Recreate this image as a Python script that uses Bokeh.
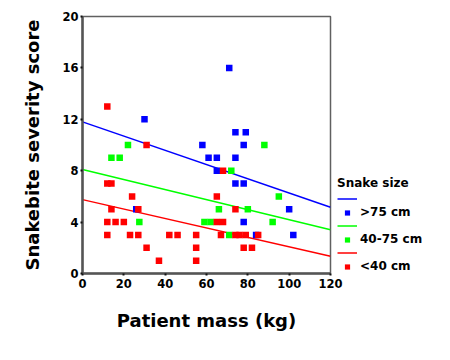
from bokeh.plotting import figure
from bokeh.models import Range1d, FixedTicker, Legend, LegendItem
from bokeh.embed import file_html
from bokeh.resources import INLINE

# ---- data ----
big_mass = [30, 58, 71, 74, 79, 78, 61, 65, 74, 65, 74, 78, 26, 100, 78, 84, 102]
big_score = [12, 10, 16, 11, 11, 10, 9, 9, 9, 8, 7, 7, 5, 5, 4, 3, 3]

mid_mass = [22, 88, 14, 18, 72, 95, 66, 80, 27.5, 59, 62, 92, 71]
mid_score = [10, 10, 9, 9, 8, 6, 5, 5, 4, 4, 4, 4, 3]

small_mass = [12, 31, 12, 14, 24, 14, 27, 12, 16, 20, 12, 23, 27, 42, 46, 55, 31, 55,
              37, 55, 68, 65, 74, 65, 68, 67, 74, 76, 79, 85, 78, 82]
small_score = [13, 10, 7, 7, 6, 5, 5, 4, 4, 4, 3, 3, 3, 3, 3, 3, 2, 2,
               1, 1, 8, 6, 5, 4, 4, 3, 3, 3, 3, 3, 2, 2]

fit_x = [0, 120]
fit_big = [11.8, 5.15]
fit_mid = [8.1, 3.4]
fit_small = [5.75, 1.35]

x_ticks = [0, 20, 40, 60, 80, 100, 120]
y_ticks = [0, 4, 8, 12, 16, 20]
series_labels = [">75 cm", "40-75 cm", "<40 cm"]

BLUE, GREEN, RED = "#0000ff", "#00ff00", "#ff0000"
FONT = "DejaVu Sans"

p = figure(frame_width=248, frame_height=257, output_backend="svg", toolbar_location=None,
           x_range=Range1d(0, 120), y_range=Range1d(0, 20),
           min_border_left=82, min_border_right=110, min_border_top=16, min_border_bottom=77)

p.xgrid.visible = False
p.ygrid.visible = False
p.background_fill_color = "white"
p.border_fill_color = "white"
p.outline_line_color = "#606060"
p.outline_line_width = 1.5

for ax in (p.xaxis[0], p.yaxis[0]):
    ax.axis_line_color = "#555555"
    ax.axis_line_width = 2.5
    ax.major_tick_line_color = "#111111"
    ax.major_tick_line_width = 2
    ax.major_tick_in = 0
    ax.major_tick_out = 2
    ax.minor_tick_line_color = None
    ax.major_label_text_font = FONT
    ax.major_label_text_font_style = "bold"
    ax.major_label_text_font_size = "11.5px"
    ax.major_label_text_color = "black"
    ax.axis_label_text_font = FONT
    ax.axis_label_text_font_style = "bold"
    ax.axis_label_text_font_size = "18px"
    ax.axis_label_text_color = "black"

p.xaxis.ticker = FixedTicker(ticks=x_ticks)
p.yaxis.ticker = FixedTicker(ticks=y_ticks)
p.xaxis.axis_label = "Patient mass (kg)"
p.yaxis.axis_label = "Snakebite severity score"
p.xaxis.major_label_standoff = 3
p.yaxis.major_label_standoff = 2
p.xaxis.axis_label_standoff = 19
p.yaxis.axis_label_standoff = 16

l_big = p.line(fit_x, fit_big, line_color=BLUE, line_width=1.5)
l_mid = p.line(fit_x, fit_mid, line_color=GREEN, line_width=1.5)
l_small = p.line(fit_x, fit_small, line_color=RED, line_width=1.5)

s_big = p.scatter(big_mass, big_score, marker="square", size=6.5, fill_color=BLUE, line_color=None)
s_mid = p.scatter(mid_mass, mid_score, marker="square", size=6.5, fill_color=GREEN, line_color=None)
s_small = p.scatter(small_mass, small_score, marker="square", size=6.5, fill_color=RED, line_color=None)

items = [
    LegendItem(label=" ", renderers=[l_big]),
    LegendItem(label=series_labels[0], renderers=[s_big]),
    LegendItem(label=" ", renderers=[l_mid]),
    LegendItem(label=series_labels[1], renderers=[s_mid]),
    LegendItem(label=" ", renderers=[l_small]),
    LegendItem(label=series_labels[2], renderers=[s_small]),
]
legend = Legend(items=items, location=(7, 0), title="Snake size",
                title_text_font=FONT, title_text_font_style="bold", title_text_font_size="12px",
                title_text_color="black", title_standoff=2,
                label_text_font=FONT, label_text_font_style="bold", label_text_font_size="12px",
                label_text_color="black",
                glyph_width=20, glyph_height=13, label_height=13, label_standoff=3,
                spacing=0, padding=0, margin=0,
                border_line_color=None, background_fill_alpha=0)
p.add_layout(legend, "right")

open("out.html", "w").write(file_html(p, INLINE))
